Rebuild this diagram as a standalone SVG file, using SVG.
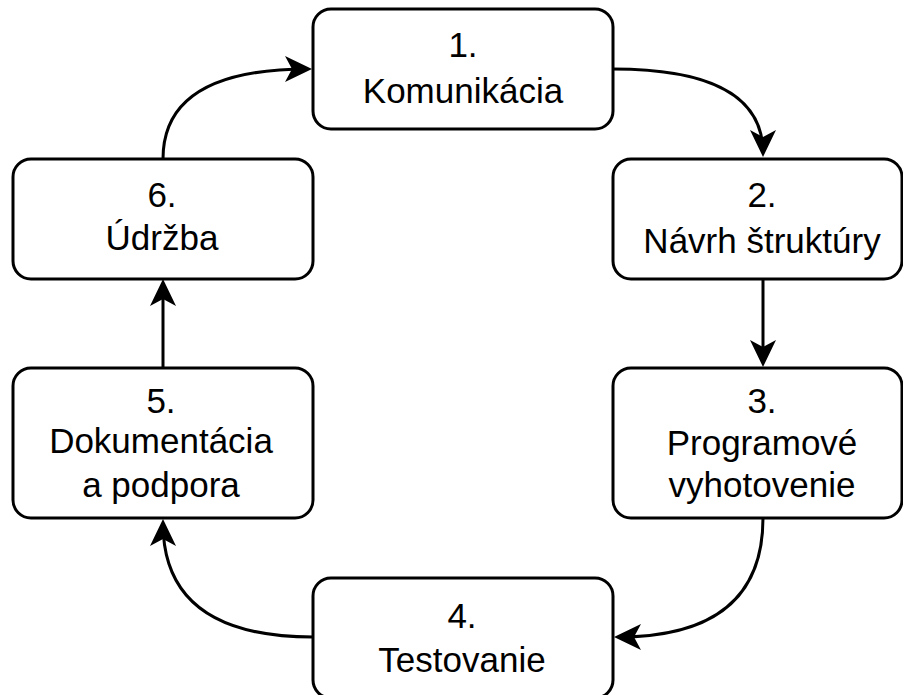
<svg xmlns="http://www.w3.org/2000/svg" width="903" height="695" viewBox="0 0 903 695">
<style>
.box{fill:#fff;stroke:#000;stroke-width:3}
.lbl{font-family:"Liberation Sans",Arial,sans-serif;font-size:35px;fill:#000;text-anchor:middle}
.edge{fill:none;stroke:#000;stroke-width:3}
</style>
<defs>
<marker id="arr" markerUnits="userSpaceOnUse" viewBox="-30 -15 35 30" markerWidth="35" markerHeight="30" refX="0" refY="0" orient="auto" overflow="visible">
<path d="M4,0 L-23,-13 L-16,0 L-23,13 Z" fill="#000"/>
</marker>
</defs>
<rect width="903" height="695" fill="#fff"/>
<g id="connectors">
<path class="edge" d="M613,69 Q763,69 763,153" marker-end="url(#arr)"/>
<path class="edge" d="M763,278 L763,363" marker-end="url(#arr)"/>
<path class="edge" d="M763,518 Q763,637 618,637" marker-end="url(#arr)"/>
<path class="edge" d="M313,637 Q163,637 163,523" marker-end="url(#arr)"/>
<path class="edge" d="M163,368 L163,283" marker-end="url(#arr)"/>
<path class="edge" d="M163,159 Q163,69 308,69" marker-end="url(#arr)"/>
</g>
<g id="n1"><rect class="box" x="313" y="9" width="300" height="120" rx="18"/>
<text class="lbl" x="463" y="57">1.</text><text class="lbl" x="463" y="103">Komunikácia</text></g>
<g id="n2"><rect class="box" x="613" y="159" width="289" height="120" rx="18"/>
<text class="lbl" x="762" y="207">2.</text><text class="lbl" x="762" y="253">Návrh štruktúry</text></g>
<g id="n3"><rect class="box" x="613" y="368" width="289" height="150" rx="18"/>
<text class="lbl" x="762" y="413">3.</text><text class="lbl" x="762" y="455">Programové</text><text class="lbl" x="762" y="497">vyhotovenie</text></g>
<g id="n4"><rect class="box" x="313" y="578" width="300" height="120" rx="18"/>
<text class="lbl" x="462" y="628">4.</text><text class="lbl" x="462" y="672">Testovanie</text></g>
<g id="n5"><rect class="box" x="13" y="368" width="300" height="150" rx="18"/>
<text class="lbl" x="161" y="413">5.</text><text class="lbl" x="161" y="453">Dokumentácia</text><text class="lbl" x="161" y="497">a podpora</text></g>
<g id="n6"><rect class="box" x="13" y="159" width="300" height="120" rx="18"/>
<text class="lbl" x="162" y="207">6.</text><text class="lbl" x="162" y="250">Údržba</text></g>
</svg>
